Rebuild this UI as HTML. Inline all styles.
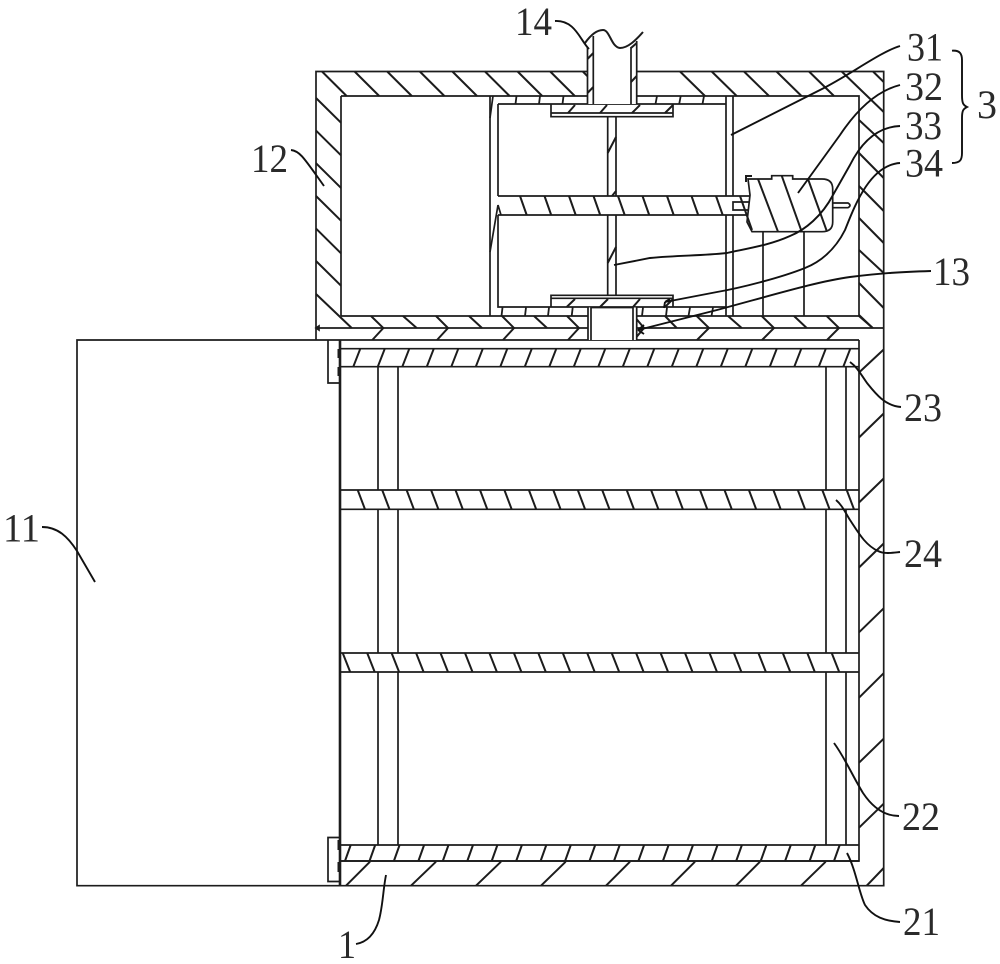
<!DOCTYPE html>
<html><head><meta charset="utf-8"><style>html,body{margin:0;padding:0;background:#fff}svg{display:block}text{font-family:"Liberation Serif",serif;font-size:40px;fill:#2a2a2a}</style></head>
<body><svg width="1000" height="964" viewBox="0 0 1000 964" xmlns="http://www.w3.org/2000/svg">
<rect width="1000" height="964" fill="#fff"/>
<g fill="none" stroke="#1c1c1c" stroke-width="1.7">
<!-- main outlines -->
<path d="M316 340V71.5H883.7V885.7H77V340H859M341 96H859V316M859 340V861H340M341 316H588M636 316H859M316 328H588M636 328H883.7"/>
<path d="M341 96V316"/>
<path d="M340 340V886" stroke-width="2.6"/>
<path d="M328 340V383H340M340 837.5H328V881.5H340"/>
<path d="M339 349v9M339 367v9M339 840v10M339 862v10" stroke-width="3"/>
<path d="M316 328l3-2v4z" fill="#1c1c1c"/>
<!-- upper wall hatches -->
<path stroke-width="2" d="M322 71.5l24.6 24.5M354.6 71.5l24.6 24.5M387.2 71.5l24.6 24.5M419.8 71.5l24.6 24.5M452.4 71.5l24.6 24.5M485 71.5l24.6 24.5M517.6 71.5l24.6 24.5M550.2 71.5l24.6 24.5M582.8 71.5l5 5M680 71.5l25 24.5M711.7 71.5l25 24.5M744 71.5l25 24.5M776.5 71.5l25 24.5M809 71.5l25 24.5M841.7 71.5L883.7 112M873 71.5l10.7 10.5"/>
<path stroke-width="2" d="M316 98l25 24.7M316 130.6l25 24.7M316 163.2l25 24.7M316 196l25 24.7M316 228.6l25 24.7M316 261l25 24.7M316 294l35.7 34M859 120l24.7 23M859 153l24.7 25M859 186l24.7 25M859 218l24.7 25M859 250l24.7 23M859 283l24.7 25M859 315l13.7 13"/>
<!-- floor chevrons -->
<path stroke-width="2" d="M371 316l12.3 12-11 12M403 316l13.7 12M436 316l12 12-11 12M469 316l13 12M502 316l12 12-11 12M534 316l13 12M567 316l12 12-11 12M634 316l10 12-10 12M665 316l11.7 12M696.7 316l12.3 12-12 12M728 316l13.7 12M761.7 316l12.3 12-12 12M794 316l12.7 12M826.7 316l12.3 12-12 12M859 316l13.7 12"/>
<!-- lower wall hatches -->
<path stroke-width="2" d="M859 372.5l24.7-23M859 437.5l24.7-24M859 502.5l24.7-24M859 567.5l24.7-24M859 632.3l24.7-24M859 697.7l24.7-24.5M859 762.7l24.7-24M859 827.7l24.7-24M866.7 885.7l17-17.7M346 885.7l24-24M411 885.7l25-24M476 885.7l25-24M541 885.7l24.7-24M606 885.7l24-24M671 885.7l24-24M736 885.7l24-24M801 885.7l24.7-24"/>
<!-- columns -->
<path d="M378 366.7V490M398 366.7V490M378 509.3V653M398 509.3V653M378 672V845M398 672V845M826 366.7V490M846 366.7V490M826 509.3V653M846 509.3V653M826 672V845M846 672V845"/>
<!-- rails -->
<path d="M341 348.7H859M341 366.7H859M341 490H859M341 509.3H859M341 653H859M341 672H859M341 845H859M341 861H859"/>
<path stroke-width="2" d="M353.3 366.7l7-18M377.8 366.7l7-18M402.3 366.7l7-18M426.8 366.7l7-18M451.3 366.7l7-18M475.8 366.7l7-18M500.3 366.7l7-18M524.8 366.7l7-18M549.3 366.7l7-18M573.8 366.7l7-18M598.3 366.7l7-18M622.8 366.7l7-18M647.3 366.7l7-18M671.8 366.7l7-18M696.3 366.7l7-18M720.8 366.7l7-18M745.3 366.7l7-18M769.8 366.7l7-18M794.3 366.7l7-18M818.8 366.7l7-18M843.3 366.7l7-18"/>
<path stroke-width="2" d="M345 861l5.7-16M369.5 861l5.7-16M393.9 861l5.7-16M418.4 861l5.7-16M442.8 861l5.7-16M467.3 861l5.7-16M491.7 861l5.7-16M516.2 861l5.7-16M540.6 861l5.7-16M565.1 861l5.7-16M589.5 861l5.7-16M614 861l5.7-16M638.4 861l5.7-16M662.9 861l5.7-16M687.3 861l5.7-16M711.8 861l5.7-16M736.2 861l5.7-16M760.7 861l5.7-16M785.1 861l5.7-16M809.6 861l5.7-16M834 861l5.7-16"/>
<path stroke-width="2" d="M357.7 490l7.3 19.3M382.2 490l7.3 19.3M406.6 490l7.3 19.3M431.1 490l7.3 19.3M455.5 490l7.3 19.3M480 490l7.3 19.3M504.4 490l7.3 19.3M528.9 490l7.3 19.3M553.3 490l7.3 19.3M577.8 490l7.3 19.3M602.2 490l7.3 19.3M626.7 490l7.3 19.3M651.1 490l7.3 19.3M675.6 490l7.3 19.3M700 490l7.3 19.3M724.5 490l7.3 19.3M748.9 490l7.3 19.3M773.4 490l7.3 19.3M797.8 490l7.3 19.3M822.3 490l7.3 19.3M846.7 490l7.3 19.3"/>
<path stroke-width="2" d="M342.7 653l7.5 19M367.2 653l7.5 19M391.6 653l7.5 19M416.1 653l7.5 19M440.5 653l7.5 19M465 653l7.5 19M489.4 653l7.5 19M513.9 653l7.5 19M538.3 653l7.5 19M562.8 653l7.5 19M587.2 653l7.5 19M611.7 653l7.5 19M636.1 653l7.5 19M660.6 653l7.5 19M685 653l7.5 19M709.5 653l7.5 19M733.9 653l7.5 19M758.4 653l7.5 19M782.8 653l7.5 19M807.3 653l7.5 19M831.7 653l7.5 19"/>
<!-- chamber -->
<path d="M490 96V316M498 104V196M498 215V307H726M498 104H726M726 96V196M726 215V316M733 96V196M733 215V316M763 232V316M804 232V316"/>
<path stroke-width="1.8" d="M516.5 96l-1 8M540 96l-1 8M563.5 96l-1 8M657 96l-1.5 8M680.7 96l-1.5 8M704 96l-1.5 8M502.5 307.5l-1 8.5M526 307.5l-1 8.5M549 307.5l-1 8.5M572.7 307.5l-1 8.5M643 307.5l-1 8.5M667 307.5l-1 8.5M690 307.5l-1.5 8.5M713 307.5l-1.5 8.5"/>
<path d="M493 96l-3 22M498 205l-8 47M498 205l3 10"/>
<!-- plates and shaft -->
<path d="M607.7 116.7V196M616 116.7V196M607.7 215V295.3M616 215V295.3"/>
<path d="M551 104V116.7H673V104M551 113H673M551 307.3V295.3H673V307.3M551 298.3H673"/>
<path stroke-width="2" d="M568 113l7-8M600 113l7-8M632 113l8-8M665 113l8-8M566.7 307l8.3-8M600 307l8-8M633 307l7-8M665 307l8-8M607.7 153l8.3-16M607.7 263l8.3-16M612 196l4-5"/>
<!-- bar -->
<path d="M498 196H750M498 215H750"/>
<path stroke-width="2" d="M520 196l6.7 19M544.500 196l6.700 19M569 196l6.700 19M593.500 196l6.700 19M618 196l6.700 19M642.500 196l6.700 19M667 196l6.700 19M691.500 196l6.700 19M716 196l6.700 19"/>
<path d="M733 202H750V210H733ZM750.700 196V215"/>
<!-- motor -->
<path fill="#fff" d="M748 179H771.700V175.700H792.700V179H822Q832.700 179 832.700 189V222Q832.700 231.700 822 231.700H752L747 222L750 195Z"/>
<path stroke-width="2" d="M758 179l20 52.700M781.700 175.700l20 56M808 179l19 52.700M740 196l12 34M746 182v-6h6"/>
<path d="M832.700 203H848Q852 205.400 848 207.700H832.700"/>
<!-- pipe -->
<rect x="587.500" y="40" width="49" height="64" fill="#fff" stroke="none"/>
<path d="M587.500 104V47M593.300 104V36M631 104V47M636.700 104V41"/>
<path stroke-width="2" d="M587.500 59l5.800-6M587.500 93l5.800-6M631 48l5.700-5M631 82l5.700-6M585 43C590 36 596 30 603 30C610 30 611 47 620 48C628 48 636 40 643 32"/>
<!-- block 13 -->
<rect x="588" y="307.500" width="48.700" height="32.500" fill="#fff" stroke="none"/>
<path d="M588 307.500V340M591 307.500V340M633 307.500V340M636.700 307.500V340M591 307.500H633"/>
<!-- connector lines -->
<g stroke-width="1.900" stroke="#111">
<path d="M555 21C575 20 580 40 589 49"/>
<path d="M900 46C880 52 850 75 820 90L731 135"/>
<path d="M900 85C880 90 860 105 840 135L798 193"/>
<path d="M900 126C875 127 860 145 850 165L833 195C822 216 805 230 790 236C770 245 750 248 727 253C700 256 680 255 650 258L614 265"/>
<path d="M900 163C870 165 855 205 845 230C835 250 820 262 805 268C780 278 740 288 717 292L665 302M665 302l5-3M665 302l-1 6"/>
<path d="M931 271C900 272 883 273 850 277C820 281 780 293 717 310L638 330M638 330l6-5M638 330l6 4"/>
<path d="M901 407C885 406 875 393 867 383C860 373 857 367 850 362"/>
<path d="M900 552C890 553 884 554 878 551C865 545 858 532 850 520C845 512 842 505 836 500"/>
<path d="M899 816C885 816 873 808 863 793C852 775 845 758 834 743"/>
<path d="M900 922C885 921 873 917 865 905C859 893 856 870 847 853"/>
<path d="M356 944C368 942 375 933 379 920C383 905 383 890 386 875"/>
<path d="M42 527C58 527 68 537 77 551L95 582"/>
<path d="M291 150C300 151 304 158 324 186"/>
<path d="M952 50.700C960 50 962 54 962 60V95C962 103 963 105 967 107C963 109 962 111 962 118V153C962 160 960 163 952 163"/>
</g>
</g>
<!-- labels -->
<text x="515" y="35" textLength="37" lengthAdjust="spacingAndGlyphs">14</text>
<text x="907" y="60.500" textLength="36" lengthAdjust="spacingAndGlyphs">31</text>
<text x="905" y="100" textLength="38" lengthAdjust="spacingAndGlyphs">32</text>
<text x="905" y="139" textLength="37" lengthAdjust="spacingAndGlyphs">33</text>
<text x="905" y="176.500" textLength="38" lengthAdjust="spacingAndGlyphs">34</text>
<text x="977" y="118" textLength="20" lengthAdjust="spacingAndGlyphs">3</text>
<text x="251" y="172" textLength="37" lengthAdjust="spacingAndGlyphs">12</text>
<text x="933" y="285" textLength="37" lengthAdjust="spacingAndGlyphs">13</text>
<text x="904" y="421" textLength="38" lengthAdjust="spacingAndGlyphs">23</text>
<text x="904" y="567" textLength="38" lengthAdjust="spacingAndGlyphs">24</text>
<text x="902" y="830" textLength="38" lengthAdjust="spacingAndGlyphs">22</text>
<text x="903" y="935" textLength="37" lengthAdjust="spacingAndGlyphs">21</text>
<text x="338" y="958" textLength="18" lengthAdjust="spacingAndGlyphs">1</text>
<text x="3" y="541.500" textLength="37" lengthAdjust="spacingAndGlyphs">11</text>
</svg></body></html>
